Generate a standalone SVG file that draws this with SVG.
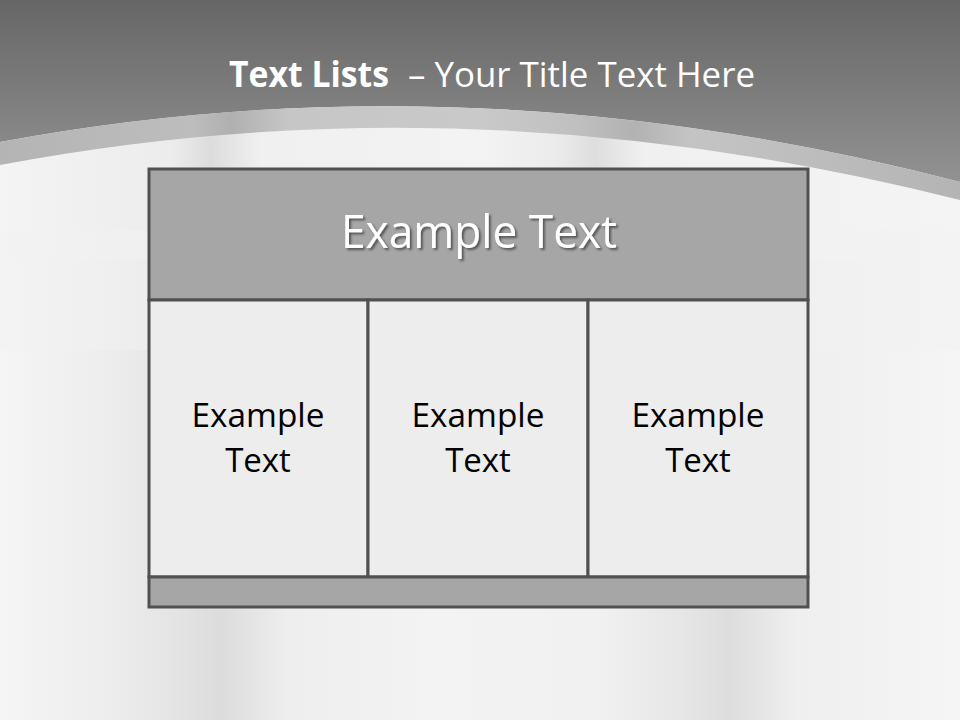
<svg xmlns="http://www.w3.org/2000/svg" width="960" height="720" viewBox="0 0 960 720">
  <defs>
    <linearGradient id="bgH" x1="0" y1="0" x2="1" y2="0">
      <stop offset="0" stop-color="#f5f5f5"/>
      <stop offset="0.1" stop-color="#eeeeee"/>
      <stop offset="0.17" stop-color="#e6e6e6"/>
      <stop offset="0.23" stop-color="#dcdcdc"/>
      <stop offset="0.3" stop-color="#eeeeee"/>
      <stop offset="0.45" stop-color="#f3f3f3"/>
      <stop offset="0.62" stop-color="#f1f1f1"/>
      <stop offset="0.71" stop-color="#e6e6e6"/>
      <stop offset="0.76" stop-color="#dddddd"/>
      <stop offset="0.83" stop-color="#efefef"/>
      <stop offset="1" stop-color="#f5f5f5"/>
    </linearGradient>
    <linearGradient id="topV" x1="0" y1="0" x2="0" y2="1">
      <stop offset="0" stop-color="#666666"/>
      <stop offset="1" stop-color="#929292"/>
    </linearGradient>
    <linearGradient id="bandH" x1="0" y1="0" x2="1" y2="0">
      <stop offset="0" stop-color="#b4b4b4"/>
      <stop offset="0.2" stop-color="#bdbdbd"/>
      <stop offset="0.24" stop-color="#b0b0b0"/>
      <stop offset="0.3" stop-color="#c6c6c6"/>
      <stop offset="0.5" stop-color="#c9c9c9"/>
      <stop offset="0.6" stop-color="#c0c0c0"/>
      <stop offset="0.66" stop-color="#b2b2b2"/>
      <stop offset="0.72" stop-color="#c4c4c4"/>
      <stop offset="1" stop-color="#b4b4b4"/>
    </linearGradient>
    <linearGradient id="whiteH" x1="0" y1="0" x2="1" y2="0">
      <stop offset="0" stop-color="#f4f4f4"/>
      <stop offset="0.18" stop-color="#ececec"/>
      <stop offset="0.22" stop-color="#dcdcdc"/>
      <stop offset="0.27" stop-color="#f0f0f0"/>
      <stop offset="0.5" stop-color="#f3f3f3"/>
      <stop offset="0.58" stop-color="#ebebeb"/>
      <stop offset="0.62" stop-color="#dedede"/>
      <stop offset="0.67" stop-color="#f0f0f0"/>
      <stop offset="1" stop-color="#f4f4f4"/>
    </linearGradient>
    <linearGradient id="fadeV" x1="0" y1="0" x2="0" y2="1">
      <stop offset="0" stop-color="#fff" stop-opacity="0"/>
      <stop offset="1" stop-color="#fff" stop-opacity="1"/>
    </linearGradient>
    <filter id="shadow" x="-10%" y="-30%" width="120%" height="160%">
      <feDropShadow dx="2" dy="2" stdDeviation="1.2" flood-color="#333333" flood-opacity="0.7"/>
    </filter>
    <style>
      .cell { stroke: #505050; stroke-width: 3; }
      .head { fill: #a6a6a6; }
      .body { fill: #ededed; }
      .ctext { font-family: "Open Sans", "Liberation Sans", sans-serif; font-size: 33px; fill: #000000; text-anchor: middle; }
      .htext { font-family: "Open Sans", "Liberation Sans", sans-serif; font-size: 46px; fill: #ffffff; text-anchor: middle; }
      .title { font-family: "Open Sans", "Liberation Sans", sans-serif; font-size: 35px; fill: #ffffff; }
    </style>
  </defs>

  <!-- background -->
  <rect x="0" y="0" width="960" height="720" fill="url(#bgH)"/>
  <rect x="0" y="130" width="960" height="130" fill="url(#whiteH)"/>
  <rect x="0" y="230" width="960" height="120" fill="#f1f1f1" opacity="0.5"/>
  <path d="M0,0 H960 V182 Q470,54 0,142 Z" fill="url(#topV)"/>
  <path d="M0,142 Q470,54 960,182 L960,200 Q470,76 0,165 Z" fill="url(#bandH)"/>

  <!-- title -->
  <text class="title" y="87"><tspan x="229" font-weight="bold" textLength="160" lengthAdjust="spacingAndGlyphs">Text Lists</tspan><tspan x="408" textLength="347" lengthAdjust="spacingAndGlyphs">– Your Title Text Here</tspan></text>

  <!-- header node -->
  <g id="header">
    <rect class="cell head" x="149" y="169" width="659" height="131"/>
    <text class="htext" x="479" y="248" textLength="276" lengthAdjust="spacingAndGlyphs" filter="url(#shadow)">Example Text</text>
  </g>

  <g id="col1">
    <rect class="cell body" x="149" y="300" width="219" height="277"/>
    <text class="ctext" x="258" y="427" textLength="133" lengthAdjust="spacingAndGlyphs">Example</text>
    <text class="ctext" x="258" y="472">Text</text>
  </g>
  <g id="col2">
    <rect class="cell body" x="368" y="300" width="220" height="277"/>
    <text class="ctext" x="478" y="427" textLength="133" lengthAdjust="spacingAndGlyphs">Example</text>
    <text class="ctext" x="478" y="472">Text</text>
  </g>
  <g id="col3">
    <rect class="cell body" x="588" y="300" width="220" height="277"/>
    <text class="ctext" x="698" y="427" textLength="133" lengthAdjust="spacingAndGlyphs">Example</text>
    <text class="ctext" x="698" y="472">Text</text>
  </g>

  <g id="footer">
    <rect class="cell head" x="149" y="577" width="659" height="30"/>
  </g>

  <g id="connectors"/>
</svg>
